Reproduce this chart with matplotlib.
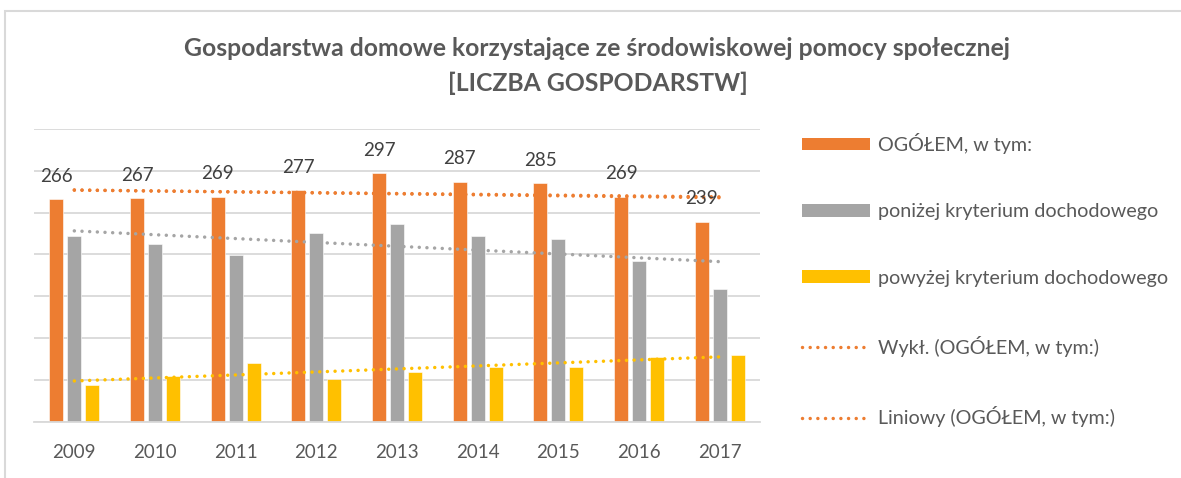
import numpy as np
import matplotlib.pyplot as plt
from matplotlib.patches import Patch, Rectangle
from matplotlib.lines import Line2D

plt.rcParams['font.family'] = ['Lato', 'DejaVu Sans']

years = ['2009', '2010', '2011', '2012', '2013', '2014', '2015', '2016', '2017']
ogolem = [266, 267, 269, 277, 297, 287, 285, 269, 239]
ponizej = [222, 212, 199, 226, 237, 222, 219, 192, 159]
powyzej = [44, 55, 70, 51, 60, 65, 66, 77, 80]

c_org = '#ed7d31'
c_grey = '#a5a5a5'
c_yel = '#ffc000'
txt = '#595959'

W, H = 1181, 478
fig = plt.figure(figsize=(W / 100, H / 100), dpi=100)
fig.patches.append(Rectangle((5 / W, -0.1), 1.2, 1 - 11.5 / H + 0.1, transform=fig.transFigure,
                             fill=False, edgecolor='#d9d9d9', linewidth=1.5))

ax = fig.add_axes([34 / W, 1 - 421.7 / H, 726 / W, (421.7 - 129) / H])
x = np.arange(len(years))
bw = 0.17
step = 0.223
ax.bar(x - step, ogolem, bw, color=c_org, edgecolor='white', linewidth=0.4, zorder=2)
ax.bar(x, ponizej, bw, color=c_grey, edgecolor='white', linewidth=0.4, zorder=2)
ax.bar(x + step, powyzej, bw, color=c_yel, edgecolor='white', linewidth=0.4, zorder=2)

dots = (0, (0.01, 2.2))
lw_dot = 2.5
def trend(vals, color, kind='lin'):
    if kind == 'exp':
        b, a = np.polyfit(x, np.log(vals), 1)
        y = np.exp(a + b * x)
    else:
        k, c = np.polyfit(x, vals, 1)
        y = c + k * x
    ax.plot(x, y, color=color, linestyle=dots, linewidth=lw_dot, dash_capstyle='round', zorder=3)

trend(ogolem, c_org, 'exp')
trend(ogolem, c_org, 'lin')
trend(ponizej, c_grey, 'lin')
trend(powyzej, c_yel, 'lin')

for i, v in enumerate(ogolem):
    ax.annotate(str(v), (x[i] - step, v), xytext=(0, 12.5), textcoords='offset points',
                ha='center', va='baseline', fontsize=13.5, color='#404040', zorder=4)

ax.set_xlim(-0.5, len(years) - 0.5)
ax.set_ylim(0, 350)
ax.set_yticks(range(0, 351, 50))
ax.yaxis.grid(True, color='#d9d9d9', linewidth=1.3, zorder=0)
ax.set_axisbelow(True)
ax.tick_params(axis='y', left=False, labelleft=False)
ax.set_xticks(x)
ax.set_xticklabels(years, fontsize=13.5, color=txt)
ax.tick_params(axis='x', length=0, pad=16)
for s in ['top', 'right', 'left']:
    ax.spines[s].set_visible(False)
ax.spines['bottom'].set_color('#d9d9d9')
ax.spines['bottom'].set_linewidth(1.3)

fig.text(597 / W, 1 - 48 / H, 'Gospodarstwa domowe korzystające ze środowiskowej pomocy społecznej',
         ha='center', va='center', fontsize=17.8, fontweight='bold', color=txt)
fig.text(598 / W, 1 - 83 / H, '[LICZBA GOSPODARSTW]',
         ha='center', va='center', fontsize=17.8, fontweight='bold', color=txt)

handles = [
    Patch(facecolor=c_org, edgecolor='none'),
    Patch(facecolor=c_grey, edgecolor='none'),
    Patch(facecolor=c_yel, edgecolor='none'),
    Line2D([], [], color=c_org, linestyle=dots, linewidth=lw_dot, dash_capstyle='round'),
    Line2D([], [], color=c_org, linestyle=dots, linewidth=lw_dot, dash_capstyle='round'),
]
labels = ['OGÓŁEM, w tym:', 'poniżej kryterium dochodowego', 'powyżej kryterium dochodowego',
          'Wykł. (OGÓŁEM, w tym:)', 'Liniowy (OGÓŁEM, w tym:)']
leg = fig.legend(handles, labels, loc='upper left', bbox_to_anchor=(802 / W, 1 - 133 / H),
                 frameon=False, fontsize=14.2, labelcolor=txt, handlelength=3.45, handleheight=0.6,
                 handletextpad=0.4, labelspacing=2.5, borderpad=0, borderaxespad=0)

fig.savefig('out.png', dpi=100, facecolor='white')
